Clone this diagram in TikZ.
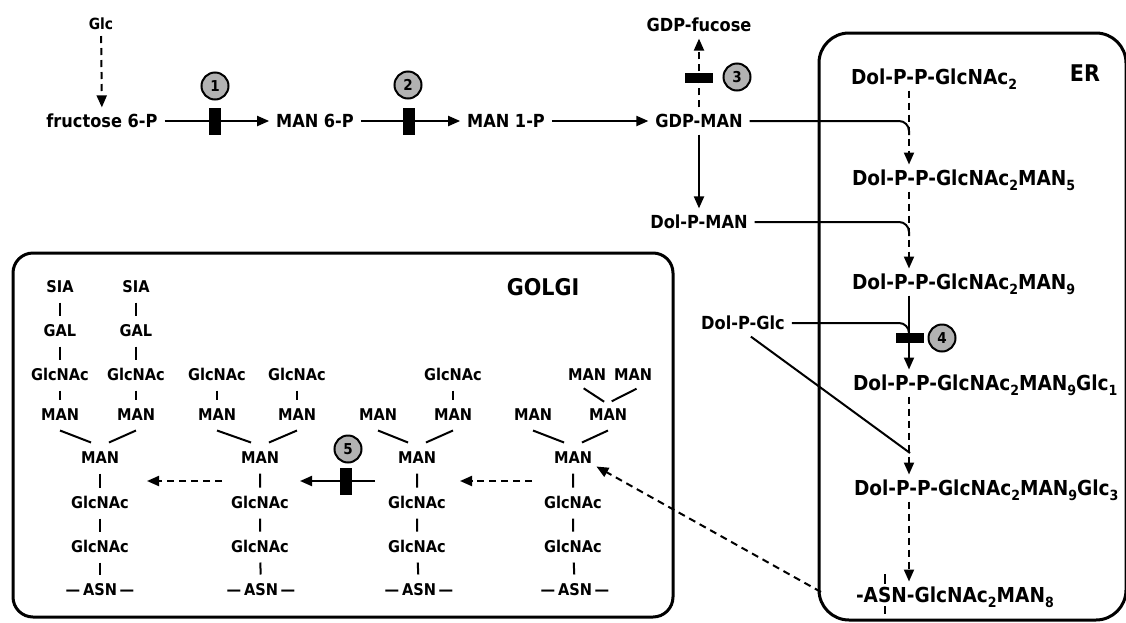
\documentclass[tikz,border=0pt]{standalone}
\usepackage{fontspec}
\setmainfont{DejaVu Sans Condensed}
\usetikzlibrary{arrows.meta}
\newcommand\lsub[1]{\raisebox{-2.6pt}{\fontsize{7}{8}\selectfont #1}}

\begin{document}
\begin{tikzpicture}[x=0.5pt, y=-0.5pt,
  lbl/.style={inner sep=3.3pt, text height=6.6pt, text depth=0pt, font=\fontsize{9}{11}\selectfont\bfseries},
  erlbl/.style={anchor=west, inner sep=2.8pt, text height=7.5pt, text depth=0pt, font=\fontsize{10.3}{12}\selectfont\bfseries},
  glab/.style={inner sep=3pt, text height=5.6pt, text depth=0pt, font=\fontsize{7.7}{9}\selectfont\bfseries},
  sugar/.style={inner xsep=2pt, inner ysep=4.6pt, text height=5.9pt, text depth=0pt, font=\fontsize{8.1}{9}\selectfont\bfseries},
  cmpname/.style={font=\fontsize{11.5}{14}\selectfont\bfseries},
  enz/.style={circle, draw, line width=1pt, fill=black!30, inner sep=0pt, minimum size=13.5pt, font=\fontsize{7.5}{8}\selectfont\bfseries},
  vblk/.style={fill=black, inner sep=0pt, minimum width=6pt, minimum height=13.5pt},
  hblk/.style={fill=black, inner sep=0pt, minimum width=14pt, minimum height=5pt},
  ar/.style={-{Triangle[length=6pt,width=5pt]}, line width=1pt},
  dar/.style={ar, dash pattern=on 3.5pt off 2.5pt},
  bond/.style={line width=1pt},
  comp/.style={draw, line width=1.5pt},
]
\useasboundingbox (0,0) rectangle (1126,622);

% compartments
\draw[comp, rounded corners=15pt] (819,33) rectangle (1126,620);
\draw[comp, rounded corners=10pt] (13,253) rectangle (673,617);
\node[cmpname] (er) at (1085,73) {ER};
\node[cmpname] (golgi) at (543,287) {GOLGI};

% cytosol
\node[glab] (glc) at (101,24) {Glc};
\node[lbl] (fru) at (102,121) {fructose 6-P};
\node[lbl] (man6p) at (315,121) {MAN 6-P};
\node[lbl] (man1p) at (506,121) {MAN 1-P};
\node[lbl] (gdpman) at (699,121) {GDP-MAN};
\node[lbl] (gdpfuc) at (699,25) {GDP-fucose};
\node[lbl] (dolpman) at (699,222) {Dol-P-MAN};
\node[lbl] (dolpglc) at (743,323) {Dol-P-Glc};

\draw[dar] (glc) -- (fru);
\draw[ar] (fru) -- (man6p);
\draw[ar] (man6p) -- (man1p);
\draw[ar] (man1p) -- (gdpman);
\draw[dar] (gdpman) -- (gdpfuc);
\draw[ar] (gdpman) -- (dolpman);

\node[vblk] (b1) at (215,121) {};
\node[enz] (e1) at (215,86) {1};
\node[vblk] (b2) at (409,121) {};
\node[enz] (e2) at (408,85) {2};
\node[hblk] (b3) at (699,78) {};
\node[enz] (e3) at (737,77) {3};

% ER
\coordinate (spine) at (909,0);
\node[erlbl] (er0) at (845,77) {Dol-P-P-GlcNAc\lsub{2}};
\node[erlbl] (er1) at (846,178) {Dol-P-P-GlcNAc\lsub{2}MAN\lsub{5}};
\node[erlbl] (er2) at (846,282) {Dol-P-P-GlcNAc\lsub{2}MAN\lsub{9}};
\node[erlbl] (er3) at (847,383) {Dol-P-P-GlcNAc\lsub{2}MAN\lsub{9}Glc\lsub{1}};
\node[erlbl] (er4) at (848,488) {Dol-P-P-GlcNAc\lsub{2}MAN\lsub{9}Glc\lsub{3}};
\node[erlbl] (er5) at (850,595)
  {-A\ooalign{S\cr\hidewidth\rule[9.5pt]{0.8pt}{5pt}\hidewidth\cr\hidewidth\rule[-5.5pt]{0.8pt}{4pt}\hidewidth\cr}N-GlcNAc\lsub{2}MAN\lsub{8}};

\draw[dar] (er0.south -| spine) -- (er1.north -| spine);
\draw[dar] (er1.south -| spine) -- (er2.north -| spine);
\draw[ar] (er2.south -| spine) -- (er3.north -| spine);
\draw[dar] (er3.south -| spine) -- (er4.north -| spine);
\draw[dar] (er4.south -| spine) -- (er5.north -| spine);

\draw[bond, rounded corners=5pt] (gdpman.east) -- (gdpman.east -| spine) -- ++(0,14);
\draw[bond, rounded corners=5pt] (dolpman.east) -- (dolpman.east -| spine) -- ++(0,14);
\draw[bond, rounded corners=5pt] (dolpglc.east) -- (dolpglc.east -| spine) -- ++(0,12);
\coordinate (j4) at (910,453);
\draw[bond] (dolpglc.-60) -- (j4);

\node[hblk] (b4) at (910,338) {};
\node[enz] (e4) at (942,338) {4};

% Golgi
\node[sugar] (t1sa) at (60,287) {SIA};
\node[sugar] (t1sb) at (136,287) {SIA};
\node[sugar] (t1ga) at (60,331) {GAL};
\node[sugar] (t1gb) at (136,331) {GAL};
\node[sugar] (t1na) at (60,375) {GlcNAc};
\node[sugar] (t1nb) at (136,375) {GlcNAc};
\node[sugar] (t1ma) at (60,415) {MAN};
\node[sugar] (t1mb) at (136,415) {MAN};
\node[sugar] (t1c) at (100,458) {MAN};
\node[sugar] (t1n1) at (100,503) {GlcNAc};
\node[sugar] (t1n2) at (100,547) {GlcNAc};
\node[sugar] (t1asn) at (100,590) {---\,ASN\,---};
\draw[bond] (t1sa) -- (t1ga) -- (t1na) -- (t1ma);
\draw[bond] (t1sb) -- (t1gb) -- (t1nb) -- (t1mb);
\draw[bond] (t1ma.south) -- (t1c.120);
\draw[bond] (t1mb.south) -- (t1c.60);
\draw[bond] (t1c) -- (t1n1) -- (t1n2) -- (t1asn);

\node[sugar] (t2na) at (217,375) {GlcNAc};
\node[sugar] (t2nb) at (297,375) {GlcNAc};
\node[sugar] (t2ma) at (217,415) {MAN};
\node[sugar] (t2mb) at (297,415) {MAN};
\node[sugar] (t2c) at (260,458) {MAN};
\node[sugar] (t2n1) at (260,503) {GlcNAc};
\node[sugar] (t2n2) at (260,547) {GlcNAc};
\node[sugar] (t2asn) at (261,590) {---\,ASN\,---};
\draw[bond] (t2na) -- (t2ma);
\draw[bond] (t2nb) -- (t2mb);
\draw[bond] (t2ma.south) -- (t2c.120);
\draw[bond] (t2mb.south) -- (t2c.60);
\draw[bond] (t2c) -- (t2n1) -- (t2n2) -- (t2asn);

\node[sugar] (t3nb) at (453,375) {GlcNAc};
\node[sugar] (t3ma) at (378,415) {MAN};
\node[sugar] (t3mb) at (453,415) {MAN};
\node[sugar] (t3c) at (417,458) {MAN};
\node[sugar] (t3n1) at (417,503) {GlcNAc};
\node[sugar] (t3n2) at (417,547) {GlcNAc};
\node[sugar] (t3asn) at (419,590) {---\,ASN\,---};
\draw[bond] (t3nb) -- (t3mb);
\draw[bond] (t3ma.south) -- (t3c.120);
\draw[bond] (t3mb.south) -- (t3c.60);
\draw[bond] (t3c) -- (t3n1) -- (t3n2) -- (t3asn);

\node[sugar] (t4ta) at (587,375) {MAN};
\node[sugar] (t4tb) at (633,375) {MAN};
\node[sugar] (t4ma) at (533,415) {MAN};
\node[sugar] (t4mb) at (608,415) {MAN};
\node[sugar] (t4c) at (573,458) {MAN};
\node[sugar] (t4n1) at (573,503) {GlcNAc};
\node[sugar] (t4n2) at (573,547) {GlcNAc};
\node[sugar] (t4asn) at (575,590) {---\,ASN\,---};
\draw[bond, shorten <=-2pt, shorten >=-2pt] (t4ta.south) -- (t4mb.115);
\draw[bond, shorten <=-2pt, shorten >=-2pt] (t4tb.south) -- (t4mb.65);
\draw[bond] (t4ma.south) -- (t4c.120);
\draw[bond] (t4mb.south) -- (t4c.60);
\draw[bond] (t4c) -- (t4n1) -- (t4n2) -- (t4asn);

% processing steps
\coordinate (g2a) at (222,481);
\coordinate (g2b) at (147,481);
\draw[dar] (g2a) -- (g2b);
\coordinate (g3a) at (375,481);
\coordinate (g3b) at (300,481);
\draw[ar] (g3a) -- (g3b);
\node[vblk] (b5) at (346,481) {};
\node[enz] (e5) at (348,449) {5};
\coordinate (g4a) at (532,481);
\coordinate (g4b) at (460,481);
\draw[dar] (g4a) -- (g4b);

\coordinate (erexit) at (821,592);
\draw[dar] (erexit) -- (t4c.-20);
\end{tikzpicture}
\end{document}
